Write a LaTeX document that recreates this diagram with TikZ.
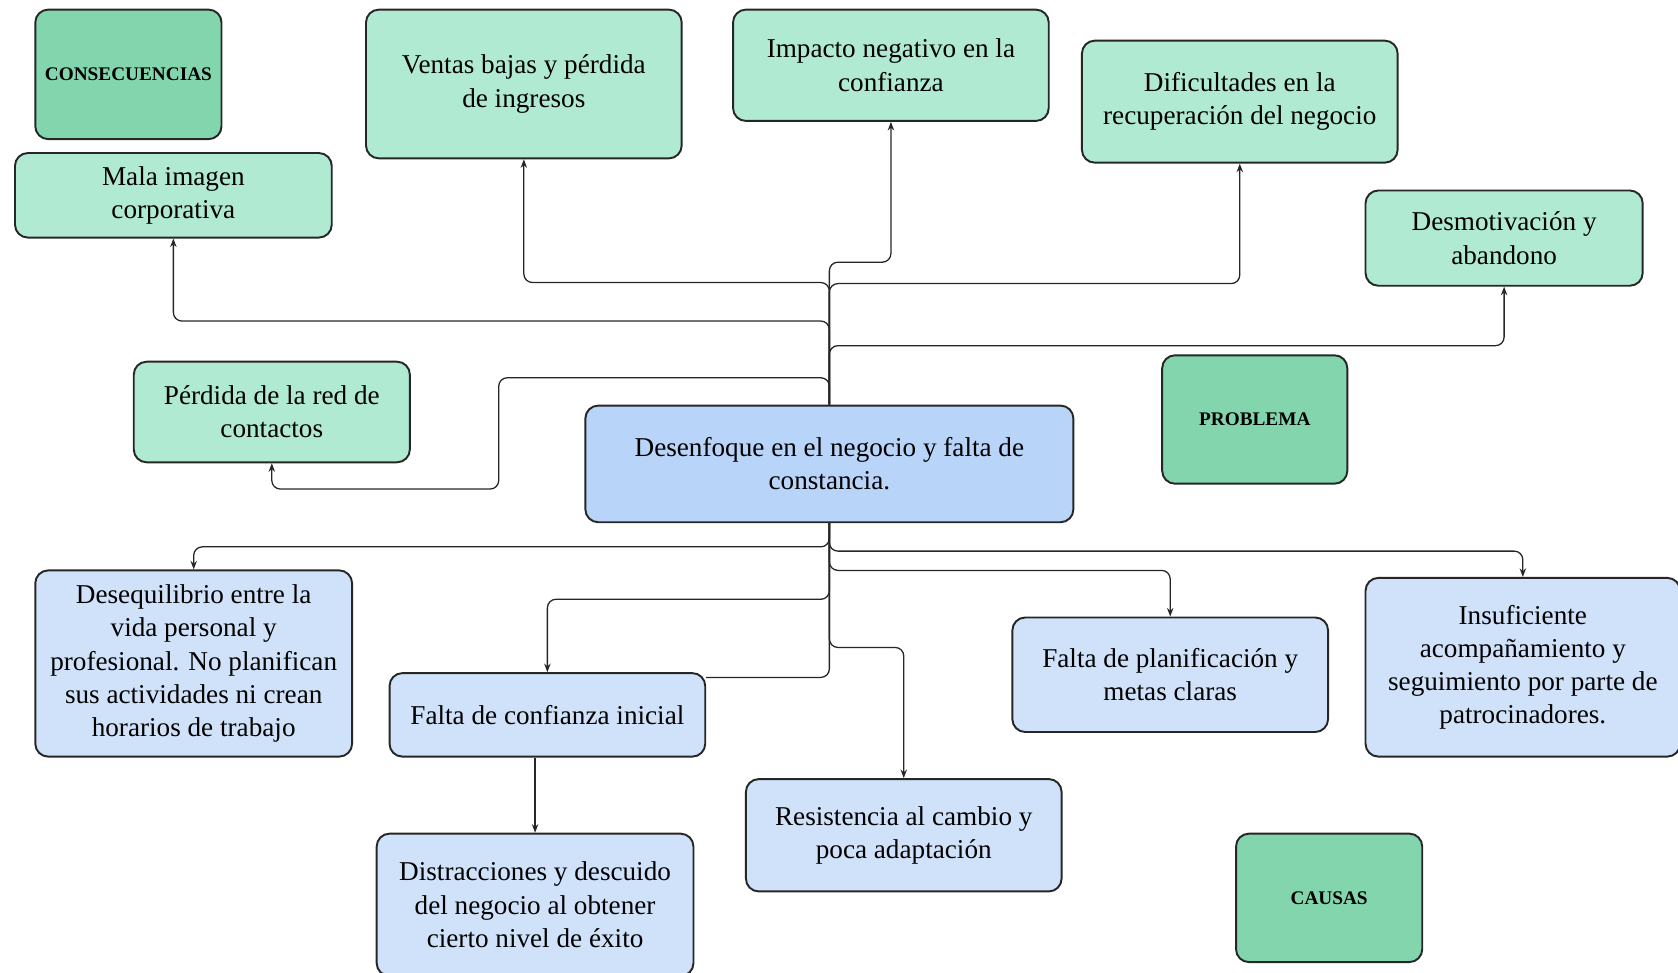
\documentclass[tikz,border=0pt]{standalone}
\usepackage{fontspec}
\setmainfont{Liberation Serif}
\usetikzlibrary{arrows.meta}
\definecolor{mint}{HTML}{B0EAD2}
\definecolor{darkmint}{HTML}{82D5AC}
\definecolor{lblue}{HTML}{CFE2FA}
\definecolor{cblue}{HTML}{B8D4F8}
\tikzset{
  box/.style={draw=black!85, line width=0.9pt, rounded corners=6pt, align=center,
    inner sep=2pt, font=\fontsize{12.7pt}{15.5pt}\selectfont},
  cons/.style={box, fill=mint},
  cause/.style={box, fill=lblue},
  central/.style={box, fill=cblue},
  cat/.style={box, fill=darkmint, font=\fontsize{9pt}{11pt}\selectfont\bfseries},
  conn/.style={draw=black!85, line width=0.6pt, rounded corners=4pt},
  arr/.style={conn, -{Stealth[length=4pt,width=3pt]}}
}
\begin{document}
\begin{tikzpicture}[x=0.5pt,y=-0.5pt]
\useasboundingbox (0,0) rectangle (1568,909);
\clip (0,0) rectangle (1568,909);
% consequences
\node[cat, minimum width=87pt, minimum height=60.5pt] (catcons) at (120,69.5) {CONSECUENCIAS};
\node[cons, minimum width=148pt, minimum height=39.5pt] (mala) at (162,182.5) {Mala imagen\\corporativa};
\node[cons, minimum width=147.5pt, minimum height=69.5pt] (ventas) at (489.5,78.5) {Ventas bajas y pérdida\\de ingresos};
\node[cons, minimum width=147.5pt, minimum height=52pt] (impacto) at (832.5,61) {Impacto negativo en la\\confianza};
\node[cons, minimum width=147.5pt, minimum height=57pt] (dific) at (1158.5,95) {Dificultades en la\\recuperación del negocio};
\node[cons, minimum width=129.5pt, minimum height=44.5pt] (desmot) at (1405.5,222.5) {Desmotivación y\\abandono};
\node[cons, minimum width=129pt, minimum height=47pt] (perdida) at (254,385) {Pérdida de la red de\\contactos};
% problem
\node[cat, minimum width=86.5pt, minimum height=60pt] (catprob) at (1172.5,392) {PROBLEMA};
\node[central, minimum width=228pt, minimum height=54.5pt] (desenf) at (775,433.5) {Desenfoque en el negocio y falta de\\constancia.};
% causes
\node[cause, minimum width=148pt, minimum height=87pt] (deseq) at (181,620) {Desequilibrio entre la\\vida personal y\\profesional. No planifican\\sus actividades ni crean\\horarios de trabajo};
\node[cause, minimum width=147.5pt, minimum height=39pt] (confianza) at (511.5,668) {Falta de confianza inicial};
\node[cause, minimum width=147.5pt, minimum height=53.5pt] (planif) at (1093.5,630.5) {Falta de planificación y\\metas claras};
\node[cause, minimum width=147pt, minimum height=83.5pt] (insuf) at (1423,623.5) {Insuficiente\\acompañamiento y\\seguimiento por parte de\\patrocinadores.};
\node[cause, minimum width=147.5pt, minimum height=52.5pt] (resist) at (844.5,780.5) {Resistencia al cambio y\\poca adaptación};
\node[cause, minimum width=148pt, minimum height=66.5pt] (distr) at (500,845.5) {Distracciones y descuido\\del negocio al obtener\\cierto nivel de éxito};
\node[cat, minimum width=87pt, minimum height=60pt] (catcaus) at (1242,839) {CAUSAS};
% connectors up
\draw[arr] (desenf.north) |- (mala.south |- 0,300) -- (mala.south);
\draw[arr] (desenf.north) |- (ventas.south |- 0,264) -- (ventas.south);
\draw[arr] (desenf.north) |- (impacto.south |- 0,245) -- (impacto.south);
\draw[arr] (desenf.north) |- (dific.south |- 0,265) -- (dific.south);
\draw[arr] (desenf.north) |- (desmot.south |- 0,323) -- (desmot.south);
\draw[arr] (desenf.north) |- (466,353) |- (perdida.south |- 0,457) -- (perdida.south);
% connectors down
\draw[arr] (desenf.south) |- (deseq.north |- 0,511) -- (deseq.north);
\draw[arr] (desenf.south) |- (insuf.north |- 0,515) -- (insuf.north);
\draw[arr] (desenf.south) |- (planif.north |- 0,533) -- (planif.north);
\draw[arr] (desenf.south) |- (confianza.north |- 0,560) -- (confianza.north);
\draw[conn] (desenf.south) |- (confianza.east |- 0,633);
\draw[arr] (desenf.south) |- (resist.north |- 0,605) -- (resist.north);
\draw[arr] (confianza.south -| distr.north) -- (distr.north);
\end{tikzpicture}
\end{document}
